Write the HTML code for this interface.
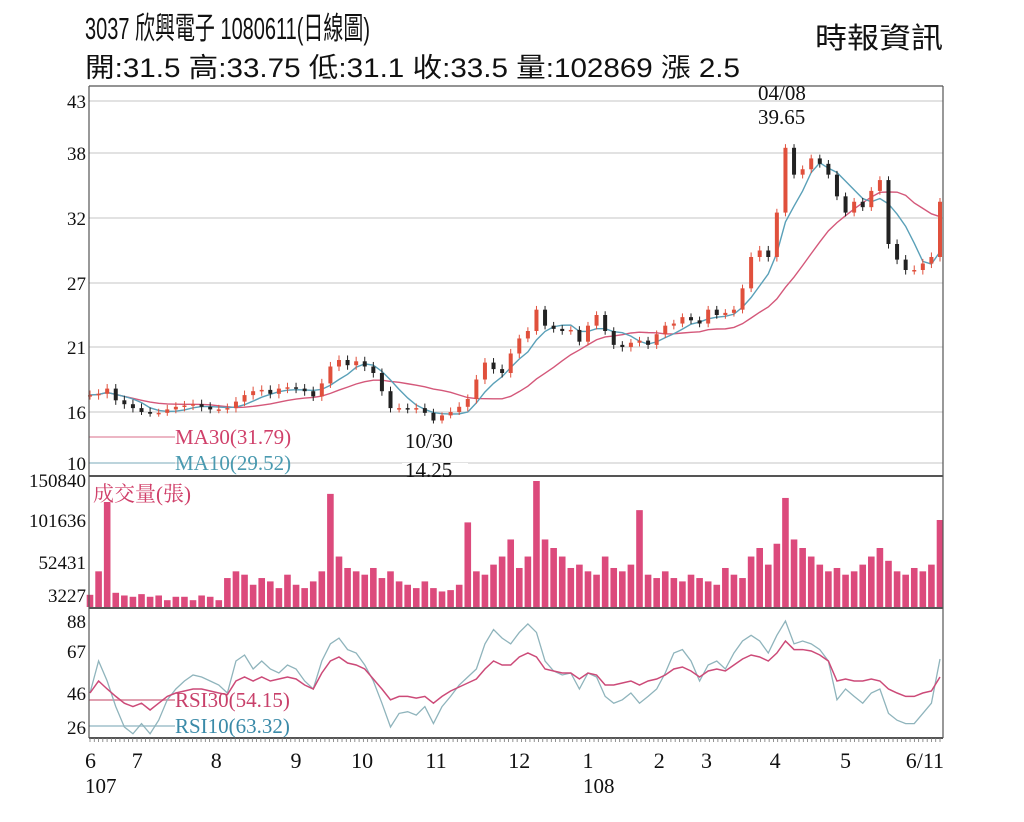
<!DOCTYPE html>
<html><head><meta charset="utf-8">
<style>
html,body{margin:0;padding:0;background:#fff;}
svg{display:block;}
.hd{font-family:"Liberation Sans","Noto Sans CJK TC",sans-serif;}
.ax{font-family:"Liberation Serif","Noto Serif CJK TC",serif;font-size:19px;fill:#111;}
.an{font-family:"Liberation Serif","Noto Serif CJK TC",serif;font-size:21px;}
</style></head>
<body>
<svg id="chart" width="1024" height="822" viewBox="0 0 1024 822" xmlns="http://www.w3.org/2000/svg">
<g class="hd">
<text class="hd" x="85" y="39" font-size="31" textLength="285" lengthAdjust="spacingAndGlyphs" fill="#111">3037  欣興電子 1080611(日線圖)</text>
<text class="hd" x="85" y="77" font-size="27" textLength="655" lengthAdjust="spacingAndGlyphs" fill="#111">開:31.5 高:33.75 低:31.1 收:33.5 量:102869 漲 2.5</text>
<text class="hd" x="815" y="48" font-size="29" textLength="128" lengthAdjust="spacingAndGlyphs" fill="#111">時報資訊</text>
</g>
<g id="grid"></g>
<g id="marks"></g>
<g id="axes"></g>
<g>
<text class="an" x="175" y="444" fill="#d0406a">MA30(31.79)</text>
<text class="an" x="175" y="470" fill="#4a9ab0">MA10(29.52)</text>
<text class="an" x="405" y="448" fill="#111">10/30</text>
<rect x="402" y="463" width="66" height="12" fill="#fff"/>
<text class="an" x="405" y="477" fill="#111">14.25</text>
<text class="an" x="758" y="100" fill="#111">04/08</text>
<text class="an" x="758" y="124" fill="#111">39.65</text>
<text class="an" x="93" y="501" fill="#d0406a">成交量(張)</text>
<text class="an" x="175" y="707" fill="#c8406a">RSI30(54.15)</text>
<text class="an" x="175" y="733" fill="#3a8aa8">RSI10(63.32)</text>
<text class="an" x="85" y="793" fill="#111" font-size="22">107</text>
<text class="an" x="583" y="793" fill="#111" font-size="22">108</text>
</g>
</svg>
<script>
const closes=[17.3,17.4,17.8,16.9,16.6,16.3,16.0,15.8,15.9,16.2,16.4,16.5,16.6,16.4,16.2,16.2,16.3,16.8,17.3,17.6,17.7,17.4,17.8,17.9,17.8,17.6,17.2,18.2,19.5,20.0,19.6,19.9,19.5,19.0,17.6,16.3,16.3,16.2,16.3,15.9,15.0,15.6,16.0,16.4,17.0,18.5,19.8,19.3,19.0,20.5,21.8,22.5,24.5,23.0,22.7,22.5,22.6,21.5,23.0,24.0,22.5,21.2,21.0,21.4,21.6,21.2,22.2,23.0,23.2,23.8,23.5,23.2,24.5,24.0,24.2,24.5,26.5,29.0,29.5,29.0,32.5,38.5,36.0,36.5,37.5,37.0,36.0,34.0,32.5,33.5,33.0,34.5,35.5,30.0,28.8,28.0,28.0,28.5,29.0,33.5];
const volumes=[5000,40000,125000,8000,4000,3000,6000,3000,4000,2000,3000,3000,2000,4000,3000,2000,30000,40000,35000,20000,30000,25000,15000,35000,20000,15000,25000,40000,135000,60000,45000,40000,35000,45000,30000,40000,25000,20000,15000,25000,15000,10000,12000,20000,100000,40000,35000,50000,60000,80000,45000,60000,150840,80000,70000,60000,45000,50000,40000,35000,60000,45000,40000,50000,115000,35000,30000,40000,30000,25000,35000,30000,25000,20000,45000,35000,30000,60000,70000,50000,75000,130000,80000,70000,60000,50000,40000,45000,35000,40000,50000,60000,70000,55000,40000,35000,45000,40000,50000,102869];
const rsi10=[46,62,52,38,26,22,28,22,30,42,48,52,55,54,52,50,46,62,65,58,62,58,56,60,58,52,48,62,72,76,68,66,60,52,40,26,34,35,33,38,28,38,44,50,54,58,72,82,76,72,80,86,80,62,57,55,56,48,56,54,44,40,42,46,40,44,48,56,66,68,62,52,60,62,58,66,74,78,74,66,78,88,72,74,72,68,62,42,48,44,40,46,48,34,30,28,28,34,40,63];
const rsi30=[46,52,48,44,40,38,40,36,40,44,46,47,48,48,47,46,45,52,54,52,54,52,53,54,53,50,48,56,62,64,61,60,58,53,48,42,44,44,43,44,40,44,47,49,51,53,58,62,60,60,64,66,64,58,57,56,56,53,56,55,50,50,51,52,50,52,53,55,58,59,57,54,57,58,57,60,63,65,64,62,66,74,68,68,67,65,62,52,53,52,52,53,52,48,46,44,44,46,47,54];
const priceTicks=[10,16,21,27,32,38,43];
const volTicks=[3227,52431,101636,150840];
const rsiTicks=[26,46,67,88];
const monthLabels=["6","7","8","9","10","11","12","1","2","3","4","5","6/11"];
const monthIdx=[0,5.5,14.7,24,31.7,40.3,50,58,66.3,71.8,79.8,88,99];

const NS="http://www.w3.org/2000/svg";
const L=89,R=943;
function X(i){return 90+i*(850/(closes.length-1));}
function interp(tab,v){for(let k=0;k<tab.length-1;k++){const a=tab[k],b=tab[k+1];if(v<=b[0]||k===tab.length-2){return a[1]+(v-a[0])*(b[1]-a[1])/(b[0]-a[0]);}}}
const pTab=[[10,463],[16,412],[21,347],[27,283],[32,218],[38,153],[43,101]];
const vTab=[[0,607],[3227,596],[52431,563],[101636,521],[150840,481]];
const rTab=[[0,771],[26,727],[46,693],[67,651],[88,621]];
function PY(v){return interp(pTab,v);}function VY(v){return interp(vTab,v);}function RY(v){return interp(rTab,v);}
function mk(tag,attrs,parent,txt){const e=document.createElementNS(NS,tag);for(const k in attrs)e.setAttribute(k,attrs[k]);if(txt!==undefined)e.textContent=txt;parent.appendChild(e);return e;}
const grid=document.getElementById('grid'),marks=document.getElementById('marks'),axes=document.getElementById('axes');

priceTicks.forEach(t=>{const y=PY(t);
 const g=mk('line',{x1:L,x2:R,y1:y,y2:y,stroke:'#d8d8d8','stroke-width':1.5},grid);
 
 
 const tx=mk('text',{x:86,y:y+7,'text-anchor':'end',class:'ax'},axes,String(t));
 
 });
volTicks.forEach(t=>{const y=VY(t)+6;
 const tx=mk('text',{x:86,y:y,'text-anchor':'end',class:'ax'},axes,String(t));
 
 });
rsiTicks.forEach(t=>{const y=RY(t)+7;
 const tx=mk('text',{x:86,y:y,'text-anchor':'end',class:'ax'},axes,String(t));
 
 });

[[437,'#e08aa0'],[463,'#9fc6d2']].forEach(a=>{const l=mk('line',{x1:L,x2:175,y1:a[0],y2:a[0],stroke:a[1],'stroke-width':1.2},grid);
 
 });
[[700,'#e0a0b0'],[726,'#b8d0d8']].forEach(a=>{const l=mk('line',{x1:L,x2:175,y1:a[0],y2:a[0],stroke:a[1],'stroke-width':2},grid);
 
 });

function ma(n){return closes.map((c,i)=>{const s=closes.slice(Math.max(0,i-n+1),i+1);return s.reduce((a,b)=>a+b,0)/s.length;});}
function poly(vals,yf,color,w,name){const p=mk('polyline',{points:vals.map((v,i)=>X(i)+','+yf(v)).join(' '),fill:'none',stroke:color,'stroke-width':w},marks);
 
 }
poly(ma(15),PY,'#d4587a',1.4,'ma30-line');
poly(ma(5),PY,'#5aa0b8',1.4,'ma10-line');

closes.forEach((c,i)=>{const o=i?closes[i-1]:c;const up=c>=o;const col=up?'#e0503c':'#222';const x=X(i);
 const hi=Math.max(o,c)+0.35,lo=Math.min(o,c)-0.35;
 const w=mk('line',{x1:x,x2:x,y1:PY(hi),y2:PY(lo),stroke:col,'stroke-width':1},marks);
 
 
 const y1=PY(Math.max(o,c)),y2=PY(Math.min(o,c));
 const b=mk('rect',{x:x-2,y:y1,width:4,height:Math.max(1.5,y2-y1),fill:col},marks);
 
 });

volumes.forEach((v,i)=>{const y=VY(v);const r=mk('rect',{x:X(i)-3.3,y:y,width:6.6,height:607-y,fill:'#dc4a7c'},marks);
 
 });

poly(rsi10,RY,'#8fb4bc',1.3,'rsi10-line');
poly(rsi30,RY,'#cc4a78',1.5,'rsi30-line');

[[L,86,R,86],[L,86,L,738],[R,86,R,738],[L,476,R,476],[L,608,R,608],[L,738,R,738]].forEach(a=>{const l=mk('line',{x1:a[0],y1:a[1],x2:a[2],y2:a[3],stroke:'#555','stroke-width':a[1]===a[3]&&a[1]!==86?2:1.2},axes);
 
 });
for(let i=0;i<closes.length*2;i++){const x=90+i*(850/(closes.length*2-1));const t=mk('line',{x1:x,x2:x,y1:738,y2:742,stroke:'#777','stroke-width':0.8},axes);
 
 }
monthLabels.forEach((m,k)=>{const x=X(monthIdx[k]);const t=mk('text',{x:k===0?85:(k===monthLabels.length-1?944:x),y:768,'text-anchor':k===0?'start':(k===monthLabels.length-1?'end':'middle'),class:'ax','font-size':'22',style:'font-size:22px'},axes,m);
 
 });
</script>
</body></html>
